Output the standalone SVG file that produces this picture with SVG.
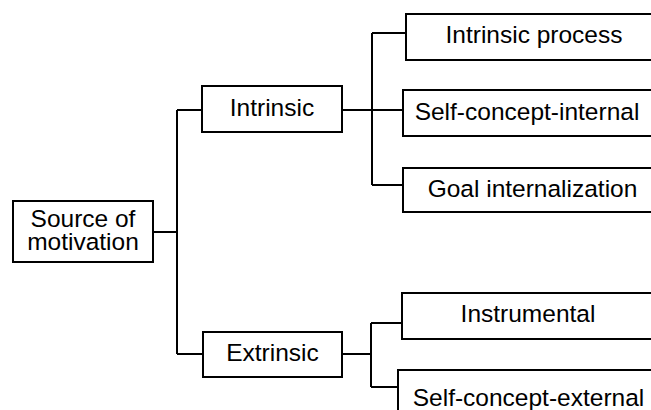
<svg xmlns="http://www.w3.org/2000/svg" width="651" height="410" viewBox="0 0 651 410">
  <style>
    .box { fill: #ffffff; stroke: #000000; stroke-width: 2; }
    .wire { fill: none; stroke: #000000; stroke-width: 2; }
    text { font-family: "Liberation Sans", Arial, sans-serif; font-size: 24.5px; fill: #000000; text-anchor: middle; }
  </style>
  <rect x="0" y="0" width="651" height="410" fill="#ffffff"/>

  <g id="connectors">
    <!-- root to first level -->
    <path class="wire" d="M153 232 H177 M177 110 V354 M177 110 H202 M177 354 H203"/>
    <!-- Intrinsic branch -->
    <path class="wire" d="M342 110 H403 M372 33 V185 M372 33 H406 M372 185 H403"/>
    <!-- Extrinsic branch -->
    <path class="wire" d="M342 354 H371 M371 323 V387 M371 323 H402 M371 387 H398"/>
  </g>

  <g id="source">
    <rect class="box" x="13" y="201" width="140" height="61"/>
    <text x="83" y="227">Source of</text>
    <text x="83" y="250">motivation</text>
  </g>

  <g id="intrinsic">
    <rect class="box" x="202" y="86" width="140" height="46"/>
    <text x="272" y="116">Intrinsic</text>
  </g>

  <g id="extrinsic">
    <rect class="box" x="203" y="332" width="139" height="45"/>
    <text x="272.5" y="361">Extrinsic</text>
  </g>

  <g id="intrinsic-process">
    <rect class="box" x="406" y="14" width="300" height="46"/>
    <text x="534" y="43">Intrinsic process</text>
  </g>

  <g id="self-concept-internal">
    <rect class="box" x="403" y="90" width="300" height="46"/>
    <text x="527" y="120">Self-concept-internal</text>
  </g>

  <g id="goal-internalization">
    <rect class="box" x="403" y="168" width="300" height="44"/>
    <text x="532.5" y="197">Goal internalization</text>
  </g>

  <g id="instrumental">
    <rect class="box" x="402" y="293" width="300" height="46"/>
    <text x="528" y="322">Instrumental</text>
  </g>

  <g id="self-concept-external">
    <rect class="box" x="398" y="370" width="300" height="60"/>
    <text x="528.5" y="406">Self-concept-external</text>
  </g>
</svg>
